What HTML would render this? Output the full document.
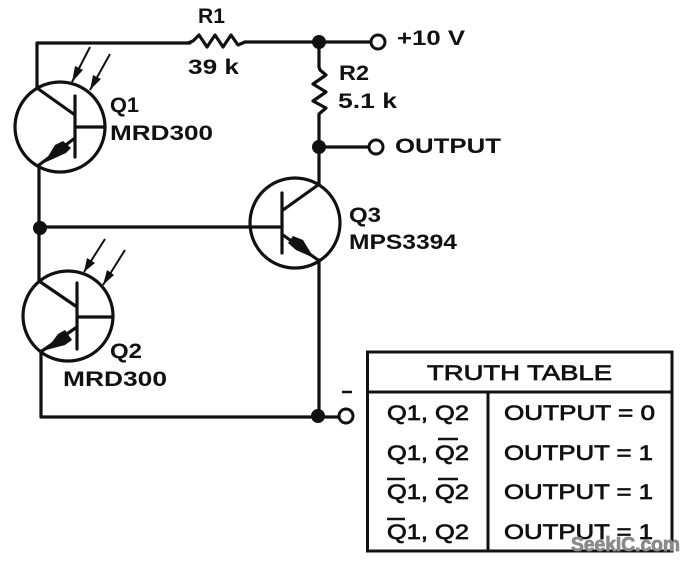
<!DOCTYPE html>
<html>
<head>
<meta charset="utf-8">
<style>
html,body{margin:0;padding:0;background:#fff;width:690px;height:562px;overflow:hidden}
svg{display:block}
text{font-family:"Liberation Sans",sans-serif;font-weight:bold;fill:#111;font-size:21px}
.t{font-weight:normal;stroke:#111;stroke-width:.7px;font-size:21px}
.l{fill:none;stroke:#111;stroke-width:3.2;stroke-linecap:round;stroke-linejoin:round}
.n{fill:none;stroke:#111;stroke-width:2}
</style>
</head>
<body>
<svg width="690" height="562" viewBox="0 0 690 562" xmlns="http://www.w3.org/2000/svg">
<rect width="690" height="562" fill="#fff"/>

<!-- wires -->
<path class="l" d="M37 88V43H190M245 42H372M319 42V67M319 117V185M319 147H370M319 260V417H339M41 351V417H319M39 165V281M40 227H282"/>

<!-- resistors -->
<path class="l" d="M188 43L193 41L199 35L207 47L215 35L223 47L231 35L238 45L245 42"/>
<path class="l" d="M319 67L320 70L326 75L313 84L326 92L313 101L326 108L319 114V118"/>

<!-- Q1 -->
<circle class="l" cx="60" cy="127" r="45"/>
<path class="l" d="M75 96V157M75 127H105M37 88L75 115M39 165L75 138"/>
<polygon points="44,163 55,145 63,141 71,148 66,153" fill="#111"/>
<path d="M90 47L72 82M110 54L90 90" class="n"/>
<polygon points="72,82 75,66 83,70" fill="#111"/>
<polygon points="90,90 93,75 101,79" fill="#111"/>

<!-- Q2 -->
<circle class="l" cx="68" cy="316" r="45"/>
<path class="l" d="M77 283V349M77 317H113M39 281L77 307M42 351L77 327"/>
<polygon points="46,350 58,334 65,330 72,340 65,345" fill="#111"/>
<path d="M105 239L84 272M125 250L103 285" class="n"/>
<polygon points="84,272 87,258 95,263" fill="#111"/>
<polygon points="103,285 107,270 114,275" fill="#111"/>

<!-- Q3 -->
<circle class="l" cx="295" cy="223" r="45"/>
<path class="l" d="M282 193V253M283 210L318 185M283 235L318 260"/>
<polygon points="314,258 296,250 288,243 293,236 303,240" fill="#111"/>

<!-- nodes -->
<g fill="#111">
<circle cx="319" cy="42" r="7"/>
<circle cx="319" cy="147" r="7"/>
<circle cx="40" cy="228" r="7"/>
<circle cx="318" cy="416" r="7"/>
</g>
<g fill="#fff" stroke="#111" stroke-width="3">
<circle cx="378" cy="42" r="7"/>
<circle cx="376" cy="147" r="7"/>
<circle cx="346" cy="416" r="7"/>
</g>
<path d="M342 392H352" stroke="#111" stroke-width="2.5"/>

<!-- labels -->
<text x="198" y="23" textLength="27" lengthAdjust="spacingAndGlyphs">R1</text>
<text x="188" y="74" textLength="51" lengthAdjust="spacingAndGlyphs">39 k</text>
<text x="397" y="45" textLength="68" lengthAdjust="spacingAndGlyphs">+10 V</text>
<text x="339" y="80" textLength="30" lengthAdjust="spacingAndGlyphs">R2</text>
<text x="338" y="108" textLength="59" lengthAdjust="spacingAndGlyphs">5.1 k</text>
<text x="395" y="153" textLength="106" lengthAdjust="spacingAndGlyphs">OUTPUT</text>
<text x="110" y="112" textLength="29" lengthAdjust="spacingAndGlyphs">Q1</text>
<text x="110" y="140" textLength="103" lengthAdjust="spacingAndGlyphs">MRD300</text>
<text x="110" y="358" textLength="32" lengthAdjust="spacingAndGlyphs">Q2</text>
<text x="63" y="386" textLength="104" lengthAdjust="spacingAndGlyphs">MRD300</text>
<text x="349" y="222" textLength="32" lengthAdjust="spacingAndGlyphs">Q3</text>
<text x="349" y="249" textLength="108" lengthAdjust="spacingAndGlyphs">MPS3394</text>

<!-- table -->
<rect x="367.500" y="352" width="304.500" height="199" fill="none" stroke="#111" stroke-width="3"/>
<path d="M367 392H672M488 392V551" stroke="#111" stroke-width="3" fill="none"/>
<text class="t" x="427" y="380" textLength="185" lengthAdjust="spacingAndGlyphs">TRUTH TABLE</text>
<text class="t" x="387" y="420" textLength="82" lengthAdjust="spacingAndGlyphs">Q1, Q2</text>
<text class="t" x="387" y="460" textLength="82" lengthAdjust="spacingAndGlyphs">Q1, Q2</text>
<text class="t" x="387" y="499" textLength="82" lengthAdjust="spacingAndGlyphs">Q1, Q2</text>
<text class="t" x="387" y="539" textLength="82" lengthAdjust="spacingAndGlyphs">Q1, Q2</text>
<text class="t" x="504" y="420" textLength="151" lengthAdjust="spacingAndGlyphs">OUTPUT = 0</text>
<text class="t" x="504" y="460" textLength="149" lengthAdjust="spacingAndGlyphs">OUTPUT = 1</text>
<text class="t" x="504" y="499" textLength="149" lengthAdjust="spacingAndGlyphs">OUTPUT = 1</text>
<text class="t" x="504" y="539" textLength="149" lengthAdjust="spacingAndGlyphs">OUTPUT = 1</text>
<path d="M438 439H458M387 479H405M438 479H458M387 519H405" stroke="#111" stroke-width="2.500"/>

<!-- watermark -->
<text x="571" y="551" textLength="109" lengthAdjust="spacingAndGlyphs" style="fill:#8a8a8a;font-size:20px;stroke:#8a8a8a;stroke-width:.8px">SeekIC.com</text>
</svg>
</body>
</html>
